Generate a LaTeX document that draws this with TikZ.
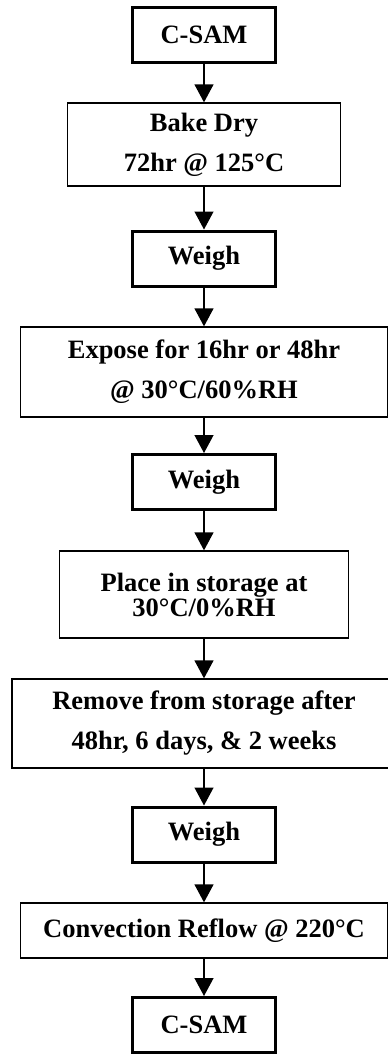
\documentclass[tikz,border=0pt]{standalone}
\usepackage{fontspec}
\setmainfont{Liberation Serif}
\usetikzlibrary{arrows.meta}

\begin{document}
\begin{tikzpicture}[x=1pt,y=-1pt]
  \tikzset{flowbox/.style = {draw, align=center, inner sep=0pt,
                             font=\fontsize{26.5}{40}\selectfont\bfseries},
           thickbox/.style = {flowbox, line width=3pt, minimum width=143pt, minimum height=55pt},
           thinbox/.style = {flowbox, line width=1.3pt},
           flowarrow/.style = {line width=1.3pt, -{Triangle[width=19pt,length=18pt]}}}
  \useasboundingbox (0,0) rectangle (388,1055);

  % steps
  \node[thickbox] (csamA) at (204,34.5) {C-SAM};
  \node[thinbox, minimum width=273pt, minimum height=83pt] (bake) at (204,144.5)
       {Bake Dry\\72hr @ 125°C};
  \node[thickbox] (weighA) at (204,258.5) {Weigh};
  \node[thinbox, minimum width=367pt, minimum height=90pt] (expose) at (204,372)
       {Expose for 16hr or 48hr\\@ 30°C/60\%RH};
  \node[thickbox] (weighB) at (204,482) {Weigh};
  \node[thinbox, minimum width=289pt, minimum height=87pt,
        font=\fontsize{26.5}{25}\selectfont\bfseries] (store) at (204,594.5)
       {Place in storage at\\30°C/0\%RH};
  \node[thinbox, minimum width=384pt, minimum height=89pt] (remove) at (204,723.5)
       {Remove from storage after\\48hr, 6 days, \& 2 weeks};
  \node[thickbox] (weighC) at (204,834.5) {Weigh};
  \node[thinbox, minimum width=367pt, minimum height=55pt] (reflow) at (204,930.5)
       {Convection Reflow @ 220°C};
  \node[thickbox] (csamB) at (204,1025) {C-SAM};

  % arrows
  \draw[flowarrow] (csamA) -- (bake);
  \draw[flowarrow] (bake) -- (weighA);
  \draw[flowarrow] (weighA) -- (expose);
  \draw[flowarrow] (expose) -- (weighB);
  \draw[flowarrow] (weighB) -- (store);
  \draw[flowarrow] (store) -- (remove);
  \draw[flowarrow] (remove) -- (weighC);
  \draw[flowarrow] (weighC) -- (reflow);
  \draw[flowarrow] (reflow) -- (csamB);
\end{tikzpicture}
\end{document}
